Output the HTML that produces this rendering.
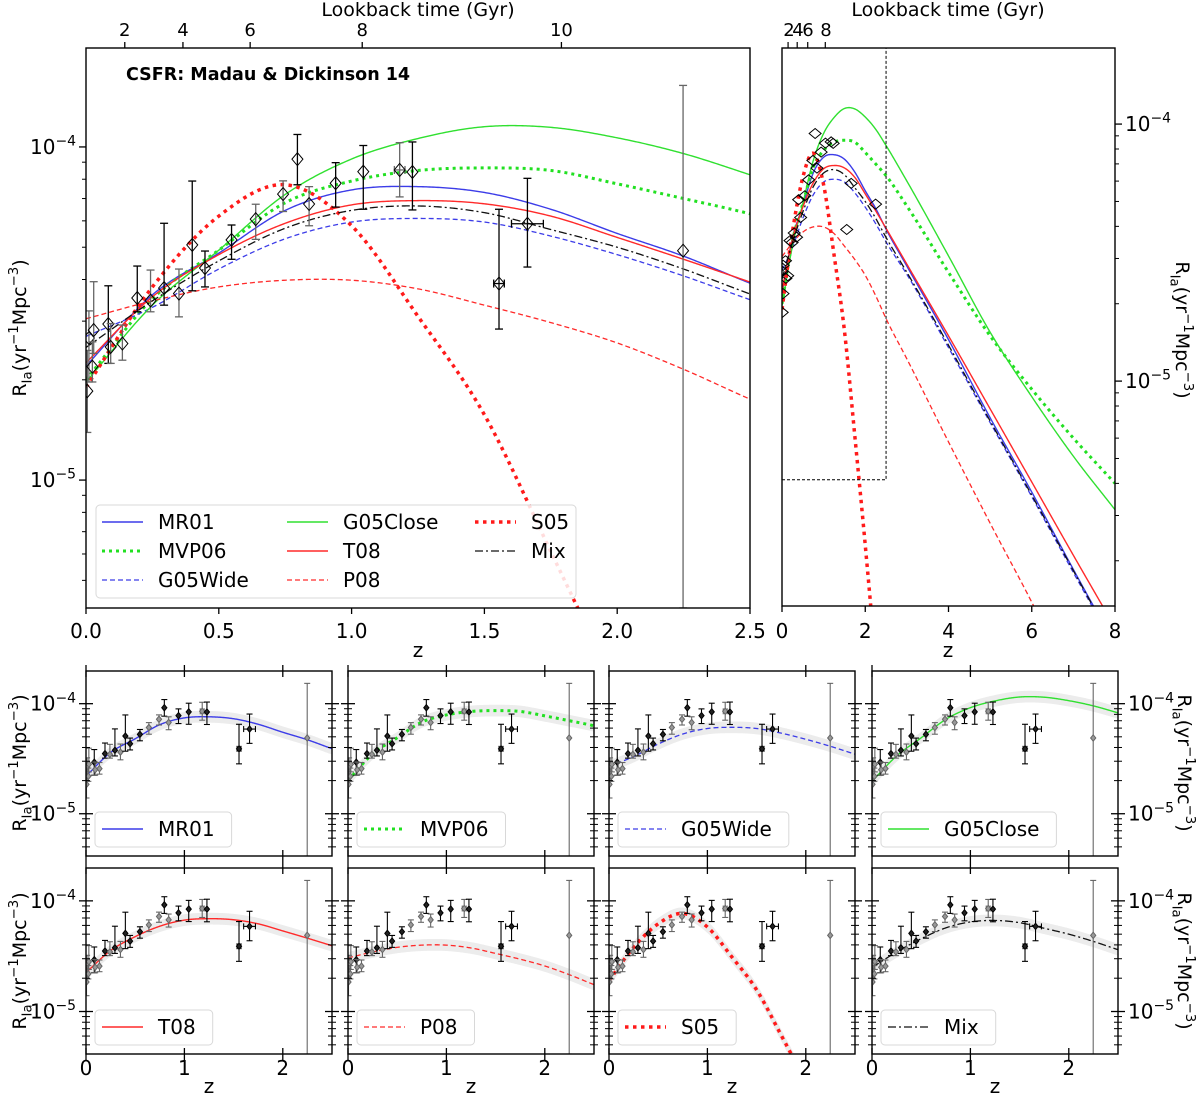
<!DOCTYPE html>
<html><head><meta charset="utf-8"><title>SN Ia rate models</title>
<style>
html,body{margin:0;padding:0;background:#fff;overflow:hidden;}
svg{display:block;font-family:"DejaVu Sans","Liberation Sans",sans-serif;}
</style></head>
<body>
<svg id="fig" width="1200" height="1101" viewBox="0 0 1200 1101" xmlns="http://www.w3.org/2000/svg">
<defs id="defs"></defs>
</svg>
<script>
// ---- data (rates in units of 1e-5 yr^-1 Mpc^-3) ----
const Z = [0,0.25,0.5,0.75,1,1.25,1.5,1.75,2,2.25,2.5,3,4,5,6,7,8];
const MR01 = [2.2,3.6,4.8,6.45,7.43,7.6,7.3,6.5,5.5,4.7,3.9,2.8,1.45,0.72,0.37,0.185,0.094];
const MVP06 = [2.0,3.5,4.9,6.8,7.9,8.5,8.65,8.5,7.75,7.0,6.3,4.8,2.65,1.5,0.93,0.6,0.40];
const G05Wide = [2.7,3.3,4.3,5.3,5.95,6.1,5.95,5.4,4.75,4.1,3.48,2.6,1.35,0.69,0.355,0.18,0.092];
const G05Close = [1.97,3.35,4.9,7.2,9.2,10.6,11.5,11.45,10.65,9.55,8.25,6.0,3.07,1.55,0.87,0.51,0.316];
const T08 = [2.25,3.55,4.75,5.9,6.7,6.9,6.75,6.2,5.35,4.6,3.93,2.85,1.5,0.78,0.405,0.21,0.11];
const P08 = [3.05,3.45,3.8,3.98,3.98,3.75,3.35,2.97,2.58,2.15,1.75,1.22,0.58,0.28,0.138,0.065,0.03];
const S05 = [1.9,3.8,6.2,7.7,5.8,3.1,1.57,0.61,0.23,0.08,0.025,0.002,0.0001,0.00001,0.000001,0.0000001,0.00000001];
const Mix = [2.5,3.45,4.55,5.7,6.45,6.65,6.35,5.65,5.0,4.3,3.62,2.65,1.38,0.70,0.36,0.183,0.093];

const dataZ = [0.005,0.011,0.029,0.024,0.084,0.093,0.137,0.193,0.243,0.294,0.35,0.40,0.448,0.548,0.639,0.742,0.796,0.84,0.94,1.044,1.181,1.229,1.555,1.662,2.248];
const dataR = [1.85,2.67,2.82,2.19,2.94,2.51,2.57,3.52,3.46,3.77,3.63,5.08,4.33,5.26,6.07,7.22,9.19,6.74,7.78,8.43,8.53,8.41,3.89,5.88,4.88];
const dataLo = [1.39,1.97,2.40,1.97,2.24,2.24,2.29,3.2,3.2,3.35,3.09,3.7,3.8,4.6,5.28,6.4,7.7,5.8,6.6,6.5,7.08,6.47,2.84,4.36,0.41];
const dataHi = [2.45,3.22,3.94,2.6,3.83,2.95,2.92,4.39,4.27,5.90,4.3,7.9,4.87,5.83,6.73,7.91,10.9,7.6,8.97,10.1,10.3,10.35,6.5,8.05,15.3];
const dataXerr = [0,0,0,0,0,0,0,0,0,0,0,0,0,0,0,0,0,0,0,0,0.02,0,0.02,0.06,0];
const dataGray = [1,1,1,1,0,1,1,0,1,0,1,0,0,0,1,1,0,1,0,0,1,0,0,0,1];

const lookbackLabels = [2,4,6,8,10];
const lookbackZ = [0.146,0.365,0.618,1.04,1.79];

const mainTicksZ = [0,0.5,1.0,1.5,2.0,2.5];
const mainTickLabels = ["0.0","0.5","1.0","1.5","2.0","2.5"];
const rightTicksZ = [0,2,4,6,8];
const smallTicksZ = [0,1,2];

// ---- helpers ----
const svg = document.getElementById('fig');
const NS = 'http://www.w3.org/2000/svg';
function mk(tag, attrs, name, inter, parent){
  const el = document.createElementNS(NS, tag);
  for (const k in attrs) el.setAttribute(k, attrs[k]);
  
  
  (parent || svg).appendChild(el);
  return el;
}
function interp(vals, z){
  const L = vals.map(v => Math.log10(v));
  let i = 0;
  while (i < Z.length - 2 && z > Z[i+1]) i++;
  const h = Z[i+1] - Z[i];
  function tan(k){
    if (k === 0) return (L[1]-L[0])/(Z[1]-Z[0]);
    if (k === Z.length-1) return (L[k]-L[k-1])/(Z[k]-Z[k-1]);
    const h0 = Z[k]-Z[k-1], h1 = Z[k+1]-Z[k];
    const d0 = (L[k]-L[k-1])/h0, d1 = (L[k+1]-L[k])/h1;
    return (d0*h1 + d1*h0)/(h0+h1);
  }
  const t = (z - Z[i]) / h;
  const t2 = t*t, t3 = t2*t;
  const y = (2*t3-3*t2+1)*L[i] + (t3-2*t2+t)*h*tan(i) + (-2*t3+3*t2)*L[i+1] + (t3-t2)*h*tan(i+1);
  return Math.pow(10, y);
}
function sx(p, z){ return p.x0 + z / p.zmax * (p.x1 - p.x0); }
function sy(p, v){ return p.y0 + (p.lmax - Math.log10(v*1e-5)) / (p.lmax - p.lmin) * (p.y1 - p.y0); }

const models = [
  {key:'MR01', vals:MR01, color:'#3c3ce8', w:1.4, dash:null},
  {key:'MVP06', vals:MVP06, color:'#22e022', w:3, dash:'3,4'},
  {key:'G05Wide', vals:G05Wide, color:'#3c3ce8', w:1.3, dash:'5,3'},
  {key:'G05Close', vals:G05Close, color:'#30e030', w:1.4, dash:null},
  {key:'T08', vals:T08, color:'#ff2a2a', w:1.4, dash:null},
  {key:'P08', vals:P08, color:'#ff2a2a', w:1.3, dash:'5,3'},
  {key:'S05', vals:S05, color:'#ff1a1a', w:3.5, dash:'3.5,4.5'},
  {key:'Mix', vals:Mix, color:'#111', w:1.3, dash:'8,3,2,3'}
];

let clipN = 0;
function clipFor(p){
  const id = 'clip' + (clipN++);
  const cp = document.createElementNS(NS, 'clipPath');
  cp.setAttribute('id', id);
  document.getElementById('defs').appendChild(cp);
  const r = document.createElementNS(NS, 'rect');
  r.setAttribute('x', p.x0); r.setAttribute('y', p.y0);
  r.setAttribute('width', p.x1 - p.x0); r.setAttribute('height', p.y1 - p.y0);
  cp.appendChild(r);
  return id;
}
function curvePath(p, vals, f){
  let d = '';
  const n = 400;
  for (let k = 0; k <= n; k++){
    const z = p.zmax * k / n;
    const v = interp(vals, z) * (f || 1);
    let y = sy(p, v); if (y > p.y1 + 20) y = p.y1 + 20;
    d += (k ? 'L' : 'M') + sx(p, z).toFixed(2) + ',' + y.toFixed(2);
  }
  return d;
}
function drawModel(p, m, g, name){
  const a = {d: curvePath(p, m.vals), fill:'none', stroke:m.color, 'stroke-width':m.w};
  if (m.dash) a['stroke-dasharray'] = m.dash;
  mk('path', a, name, false, g);
}
function drawBand(p, m, g){
  let d = curvePath(p, m.vals, 1.13);
  const n = 400; let back = '';
  for (let k = n; k >= 0; k--){
    const z = p.zmax * k / n;
    let y = sy(p, interp(m.vals, z) / 1.13); if (y > p.y1 + 20) y = p.y1 + 20;
    back += 'L' + sx(p, z).toFixed(2) + ',' + y.toFixed(2);
  }
  mk('path', {d: d + back + 'Z', fill:'#ececec', stroke:'none'}, 'uncertainty-band', false, g);
}
function diamond(cx, cy, hw, hh){
  return `M${cx},${cy-hh}L${cx+hw},${cy}L${cx},${cy+hh}L${cx-hw},${cy}Z`;
}
function drawData(p, g, opt){
  for (let i = 0; i < dataZ.length; i++){
    const x = sx(p, dataZ[i]), y = sy(p, dataR[i]);
    const col = dataGray[i] ? '#666' : '#000';
    if (opt.err){
      const yt = sy(p, dataHi[i]), yb = Math.min(sy(p, dataLo[i]), p.y1);
      mk('line', {x1:x, y1:yt, x2:x, y2:yb, stroke:col, 'stroke-width':opt.ew}, 'error-bar', false, g);
      mk('line', {x1:x-opt.cap, y1:yt, x2:x+opt.cap, y2:yt, stroke:col, 'stroke-width':opt.ew}, 'error-cap', false, g);
      mk('line', {x1:x-opt.cap, y1:yb, x2:x+opt.cap, y2:yb, stroke:col, 'stroke-width':opt.ew}, 'error-cap', false, g);
      if (dataXerr[i] > 0){
        const xa = sx(p, dataZ[i]-dataXerr[i]), xb = sx(p, dataZ[i]+dataXerr[i]);
        mk('line', {x1:xa, y1:y, x2:xb, y2:y, stroke:col, 'stroke-width':opt.ew}, 'x-error-bar', false, g);
        mk('line', {x1:xa, y1:y-opt.cap, x2:xa, y2:y+opt.cap, stroke:col, 'stroke-width':opt.ew}, 'error-cap', false, g);
        mk('line', {x1:xb, y1:y-opt.cap, x2:xb, y2:y+opt.cap, stroke:col, 'stroke-width':opt.ew}, 'error-cap', false, g);
      }
    }
    mk('path', {d: diamond(x, y, opt.hw, opt.hh), fill: opt.fill ? (dataGray[i] ? '#999' : '#222') : 'none', stroke: opt.fill ? col : '#000', 'stroke-width':1}, 'data-point', true, g);
  }
}
function sci(x, y, exp, size, anchor, name, parent){
  const a = {x:x, y:y, 'font-size':size, fill:'#000'};
  if (anchor) a['text-anchor'] = anchor;
  const t = mk('text', a, name, false, parent);
  t.appendChild(document.createTextNode('10'));
  const s = document.createElementNS(NS, 'tspan');
  s.setAttribute('dy', -size*0.42); s.setAttribute('font-size', size*0.7);
  s.textContent = '\u2212' + exp;
  t.appendChild(s);
  return t;
}
function ylabel(cx, cy, rot, size, name){
  const t = mk('text', {x:0, y:0, 'font-size':size, 'text-anchor':'middle', transform:`translate(${cx},${cy}) rotate(${rot})`, fill:'#000'}, name, false);
  const parts = [['R',0,1],['Ia',0.3,0.7],['(yr',-0.3,1],['\u22121',-0.42,0.7],['Mpc',0.42,1],['\u22123',-0.42,0.7],[')',0.42,1]];
  parts.forEach(pt => {
    const s = document.createElementNS(NS, 'tspan');
    s.setAttribute('dy', (pt[1]*size).toFixed(1));
    s.setAttribute('font-size', (pt[2]*size).toFixed(1));
    s.textContent = pt[0];
    t.appendChild(s);
  });
}
function logTicks(p, g, side, bothSides, labelSide, lsize){
  for (let e = -6; e <= -4; e++){
    for (let m = 1; m <= 9; m++){
      const v = m * Math.pow(10, e) / 1e-5;
      const lv = Math.log10(m) + e;
      if (lv < p.lmin || lv > p.lmax) continue;
      const y = sy(p, v);
      const len = m === 1 ? 7 : 4;
      const sides = bothSides ? ['l','r'] : [side];
      sides.forEach(s => {
        const x = s === 'l' ? p.x0 : p.x1;
        const a = bothSides ? {x1:x-len, x2:x+len} : (s === 'l' ? {x1:x-len, x2:x} : {x1:x, x2:x+len});
        mk('line', {x1:a.x1, y1:y, x2:a.x2, y2:y, stroke:'#000', 'stroke-width': m === 1 ? 1.3 : 1}, m === 1 ? 'y-major-tick' : 'y-minor-tick', false, g);
      });
      if (m === 1 && labelSide){
        if (labelSide === 'l') sci(p.x0 - 56, y + 7, -e, lsize, null, 'y-tick-label', g);
        else sci(p.x1 + 10, y + 7, -e, lsize, null, 'y-tick-label', g);
      }
    }
  }
}
function legendEntry(g, x, y, m, text, size){
  const a = {x1:x, y1:y, x2:x+41, y2:y, stroke:m.color, 'stroke-width':m.w};
  if (m.dash) a['stroke-dasharray'] = m.dash;
  mk('line', a, 'legend-handle-' + m.key.toLowerCase(), false, g);
  const t = mk('text', {x:x+56, y:y+7, 'font-size':size, fill:'#000'}, 'legend-label-' + m.key.toLowerCase(), false, g);
  t.textContent = text;
  return t;
}

// ---- main panel ----
const main = {x0:86, x1:750, zmax:2.5, y0:48, y1:608, lmin:-5.384, lmax:-3.703};
const gMain = mk('g', {}, 'main-panel', false);
const cMain = clipFor(main);
const gMainPlot = mk('g', {'clip-path':`url(#${cMain})`}, 'main-plot-area', false, gMain);
models.forEach(m => drawModel(main, m, gMainPlot, 'curve-' + m.key.toLowerCase()));
drawData(main, gMainPlot, {err:true, ew:1.3, cap:4, hw:5.5, hh:6.5, fill:false});
mk('rect', {x:main.x0, y:main.y0, width:main.x1-main.x0, height:main.y1-main.y0, fill:'none', stroke:'#000', 'stroke-width':1.4}, 'main-frame', false, gMain);
logTicks(main, gMain, 'l', false, 'l', 20);
mainTicksZ.forEach((z, i) => {
  const x = sx(main, z);
  mk('line', {x1:x, y1:main.y1, x2:x, y2:main.y1+6, stroke:'#000', 'stroke-width':1.3}, 'x-tick', false, gMain);
  const t = mk('text', {x:x, y:main.y1+30, 'font-size':20, 'text-anchor':'middle'}, 'x-tick-label', false, gMain);
  t.textContent = mainTickLabels[i];
});
lookbackZ.forEach((z, i) => {
  const x = sx(main, z);
  mk('line', {x1:x, y1:main.y0, x2:x, y2:main.y0-6, stroke:'#000', 'stroke-width':1.3}, 'top-tick', false, gMain);
  const t = mk('text', {x:x, y:main.y0-12, 'font-size':18, 'text-anchor':'middle'}, 'top-tick-label', false, gMain);
  t.textContent = lookbackLabels[i];
});
(function(){
  let t = mk('text', {x:418, y:16, 'font-size':19, 'text-anchor':'middle'}, 'top-axis-title', false, gMain);
  t.textContent = 'Lookback time (Gyr)';
  t = mk('text', {x:418, y:657, 'font-size':20, 'text-anchor':'middle'}, 'x-axis-title', false, gMain);
  t.textContent = 'z';
  t = mk('text', {x:126, y:80, 'font-size':17.5, 'font-weight':'bold'}, 'chart-title', false, gMain);
  t.textContent = 'CSFR: Madau & Dickinson 14';
})();
ylabel(26, 328, -90, 19, 'y-axis-title');
const gLeg = mk('g', {}, 'legend', false, gMain);
mk('rect', {x:96, y:505, width:480, height:93, rx:4, fill:'#fff', 'fill-opacity':0.85, stroke:'#d8d8d8'}, 'legend-box', false, gLeg);
const legPos = [[102,522],[102,551],[102,580],[287,522],[287,551],[287,580],[475,522],[475,551]];
models.forEach((m, i) => legendEntry(gLeg, legPos[i][0], legPos[i][1], m, m.key, 20));

// ---- right panel ----
const right = {x0:782, x1:1115, zmax:8, y0:48, y1:606, lmin:-5.875, lmax:-3.704};
const gRight = mk('g', {}, 'overview-panel', false);
const cRight = clipFor(right);
const gRightPlot = mk('g', {'clip-path':`url(#${cRight})`}, 'overview-plot-area', false, gRight);
models.forEach(m => drawModel(right, m, gRightPlot, 'overview-curve-' + m.key.toLowerCase()));
drawData(right, gRightPlot, {err:false, hw:6, hh:5, fill:false});
(function(){
  const xr = sx(right, 2.5), yb = sy(right, Math.pow(10, main.lmin)/1e-5), yt = sy(right, Math.pow(10, main.lmax)/1e-5);
  mk('path', {d:`M${right.x0},${yb}L${xr},${yb}L${xr},${yt}`, fill:'none', stroke:'#000', 'stroke-width':1, 'stroke-dasharray':'3,2'}, 'zoom-region-box', false, gRightPlot);
})();
mk('rect', {x:right.x0, y:right.y0, width:right.x1-right.x0, height:right.y1-right.y0, fill:'none', stroke:'#000', 'stroke-width':1.4}, 'overview-frame', false, gRight);
logTicks(right, gRight, 'r', false, 'r', 20);
rightTicksZ.forEach(z => {
  const x = sx(right, z);
  mk('line', {x1:x, y1:right.y1, x2:x, y2:right.y1+6, stroke:'#000', 'stroke-width':1.3}, 'x-tick', false, gRight);
  const t = mk('text', {x:x, y:right.y1+32, 'font-size':20, 'text-anchor':'middle'}, 'x-tick-label', false, gRight);
  t.textContent = z;
});
lookbackZ.slice(0,4).forEach((z, i) => {
  const x = sx(right, z);
  mk('line', {x1:x, y1:right.y0, x2:x, y2:right.y0-6, stroke:'#000', 'stroke-width':1.2}, 'top-tick', false, gRight);
});
(function(){
  const labs = [[789,'2'],[798,'4'],[808,'6'],[826,'8']];
  labs.forEach(l => {
    const t = mk('text', {x:l[0], y:36, 'font-size':18, 'text-anchor':'middle'}, 'top-tick-label', false, gRight);
    t.textContent = l[1];
  });
  let t = mk('text', {x:948, y:16, 'font-size':19, 'text-anchor':'middle'}, 'top-axis-title', false, gRight);
  t.textContent = 'Lookback time (Gyr)';
  t = mk('text', {x:948, y:657, 'font-size':20, 'text-anchor':'middle'}, 'x-axis-title', false, gRight);
  t.textContent = 'z';
})();
ylabel(1176, 330, 90, 19, 'right-y-axis-title');

// ---- small panels ----
const colX = [86, 348, 609, 872];
const rows = [[671,856],[868,1054]];
models.forEach((m, i) => {
  const r = Math.floor(i/4), c = i % 4;
  const p = {x0:colX[c], x1:colX[c]+246, zmax:2.5, y0:rows[r][0], y1:rows[r][1], lmin:-5.384, lmax:-3.703};
  const g = mk('g', {}, 'panel-' + m.key.toLowerCase(), false);
  const cid = clipFor(p);
  const gp = mk('g', {'clip-path':`url(#${cid})`}, 'panel-plot-area', false, g);
  drawBand(p, m, gp);
  drawModel(p, m, gp, 'panel-curve-' + m.key.toLowerCase());
  drawData(p, gp, {err:true, ew:1.1, cap:3, hw:2.6, hh:3.2, fill:true});
  mk('rect', {x:p.x0, y:p.y0, width:246, height:p.y1-p.y0, fill:'none', stroke:'#000', 'stroke-width':1.4}, 'panel-frame', false, g);
  logTicks(p, g, 'l', true, c === 0 ? 'l' : (c === 3 ? 'r' : null), 20);
  smallTicksZ.forEach(z => {
    const x = sx(p, z);
    mk('line', {x1:x, y1:p.y1-6, x2:x, y2:p.y1+6, stroke:'#000', 'stroke-width':1.3}, 'x-tick', false, g);
    mk('line', {x1:x, y1:p.y0-6, x2:x, y2:p.y0+6, stroke:'#000', 'stroke-width':1.3}, 'x-tick-top', false, g);
    if (r === 1){
      const t = mk('text', {x:x, y:p.y1+21, 'font-size':20, 'text-anchor':'middle'}, 'x-tick-label', false, g);
      t.textContent = z;
    }
  });
  if (r === 1){
    const t = mk('text', {x:(p.x0+p.x1)/2, y:p.y1+39, 'font-size':20, 'text-anchor':'middle'}, 'x-axis-title', false, g);
    t.textContent = 'z';
  }
  const lg = mk('g', {}, 'panel-legend', false, g);
  const box = mk('rect', {x:p.x0+9, y:p.y1-44, width:100, height:35, rx:4, fill:'#fff', 'fill-opacity':0.85, stroke:'#d8d8d8'}, 'legend-box', false, lg);
  const t = legendEntry(lg, p.x0+16, p.y1-27, m, m.key, 20);
  let w = 60;
  try { w = t.getComputedTextLength(); } catch(e) {}
  box.setAttribute('width', (w + 80).toFixed(1));
});
ylabel(26, 763, -90, 19, 'row1-y-axis-title');
ylabel(26, 961, -90, 19, 'row2-y-axis-title');
ylabel(1178, 763, 90, 19, 'row1-right-y-axis-title');
ylabel(1178, 961, 90, 19, 'row2-right-y-axis-title');
</script>
</body></html>
